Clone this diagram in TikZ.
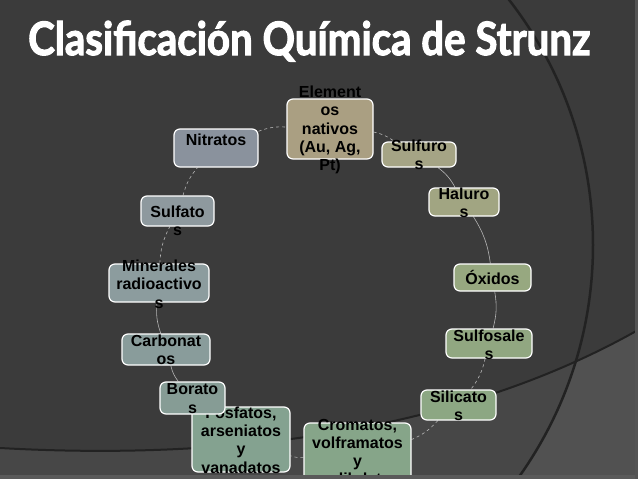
\documentclass[tikz,border=0pt]{standalone}
\usepackage{fontspec}
\newfontfamily\cajafont{Liberation Sans}
\newfontfamily\titulofont{Lato}[BoldFeatures={FakeBold=2.5}]

% Colores del fondo
\definecolor{fondo}{HTML}{3B3B3B}
\definecolor{fondoclaro}{HTML}{474747}
\definecolor{fondoclarob}{HTML}{515151}
\definecolor{lineaoscura}{HTML}{222222}
\definecolor{marco}{HTML}{5A5A5A}
% Colores de las cajas
\definecolor{cElementos}{HTML}{AA9F82}
\definecolor{cSulfuros}{HTML}{A5A485}
\definecolor{cHaluros}{HTML}{A1A582}
\definecolor{cOxidos}{HTML}{97A880}
\definecolor{cSulfosales}{HTML}{91A781}
\definecolor{cSilicatos}{HTML}{8CA783}
\definecolor{cCromatos}{HTML}{86A589}
\definecolor{cFosfatos}{HTML}{84A290}
\definecolor{cBoratos}{HTML}{869C95}
\definecolor{cCarbonatos}{HTML}{899C9B}
\definecolor{cMinerales}{HTML}{8C9C9E}
\definecolor{cSulfatos}{HTML}{8E999E}
\definecolor{cNitratos}{HTML}{8A929D}

\pgfdeclarelayer{fondo}
\pgfdeclarelayer{enlaces}
\pgfsetlayers{fondo,enlaces,main}

\tikzset{
  caja/.style={draw=white, line width=1.2pt, rounded corners=6pt, inner sep=0pt},
  texto/.style={font=\cajafont\bfseries\fontsize{16}{18.3}\selectfont, align=center, inner sep=0pt, text=black},
  enlace/.style={draw=white!62!fondo, line width=0.6pt},
}

\begin{document}
\begin{tikzpicture}[x=1pt, y=-1pt]
    \useasboundingbox (0,0) rectangle (638,479);

    % Fondo con los arcos
    \begin{pgfonlayer}{fondo}
      \fill[fondo] (0,0) rectangle (638,479);
      \fill[fondoclaro] (0,448) .. controls (250,462) and (470,425) .. (638,330) -- (638,479) -- (0,479) -- cycle;
      \begin{scope}
        \clip (0,448) .. controls (250,462) and (470,425) .. (638,330) -- (638,479) -- (0,479) -- cycle;
        \fill[fondoclarob, even odd rule] (-100,-100) rectangle (800,600) (193,245) circle (400);
      \end{scope}
      \draw[lineaoscura, line width=2pt] (0,448) .. controls (250,462) and (470,425) .. (638,330);
      \draw[lineaoscura, line width=2.5pt] (193,245) circle (400);
    \end{pgfonlayer}

    % Titulo
    \node[anchor=base west, inner sep=0pt, text=white,
          font=\titulofont\bfseries\fontsize{46}{50}\selectfont] (titulo) at (28,55)
          {\scalebox{0.875}[1]{Clasificación Química de Strunz}};

    % Cajas del ciclo
    \node[caja, fill=cElementos, minimum width=86pt, minimum height=60pt] (elementos) at (330,129) {};
    \node[texto] (t-elementos) at (330,130) {Element\\os\\nativos\\(Au, Ag,\\Pt)};

    \node[caja, fill=cSulfuros, minimum width=74pt, minimum height=25pt] (sulfuros) at (419,154.5) {};
    \node[texto] (t-sulfuros) at (419,154.5) {Sulfuro\\s};

    \node[caja, fill=cHaluros, minimum width=70pt, minimum height=28pt] (haluros) at (464,202) {};
    \node[texto] (t-haluros) at (464,202.5) {Haluro\\s};

    \node[caja, fill=cOxidos, minimum width=77pt, minimum height=27pt] (oxidos) at (492.5,277.5) {};
    \node[texto] (t-oxidos) at (492.5,277.5) {Óxidos};

    \node[caja, fill=cSulfosales, minimum width=86pt, minimum height=29pt] (sulfosales) at (489,343.5) {};
    \node[texto] (t-sulfosales) at (489,344.5) {Sulfosale\\s};

    \node[caja, fill=cSilicatos, minimum width=75pt, minimum height=30pt] (silicatos) at (458.5,405) {};
    \node[texto] (t-silicatos) at (458.5,405.5) {Silicato\\s};

    \node[caja, fill=cCromatos, minimum width=107pt, minimum height=58pt] (cromatos) at (357.5,452) {};
    \node[texto] (t-cromatos) at (357.5,452) {Cromatos,\\volframatos\\y\\molibdatos};

    \node[caja, fill=cFosfatos, minimum width=98pt, minimum height=65pt] (fosfatos) at (241,439.5) {};
    \node[texto] (t-fosfatos) at (241,440) {Fosfatos,\\arseniatos\\y\\vanadatos};

    \node[caja, fill=cBoratos, minimum width=65pt, minimum height=32pt] (boratos) at (192.5,398) {};
    \node[texto] (t-boratos) at (192.5,398.5) {Borato\\s};

    \node[caja, fill=cCarbonatos, minimum width=88pt, minimum height=31pt] (carbonatos) at (166,349.5) {};
    \node[texto] (t-carbonatos) at (166,350) {Carbonat\\os};

    \node[caja, fill=cMinerales, minimum width=100pt, minimum height=38pt] (minerales) at (159,283) {};
    \node[texto] (t-minerales) at (159,284) {Minerales\\radioactivo\\s};

    \node[caja, fill=cSulfatos, minimum width=73pt, minimum height=30pt] (sulfatos) at (177.5,211) {};
    \node[texto] (t-sulfatos) at (177.5,220.5) {Sulfato\\s};

    \node[caja, fill=cNitratos, minimum width=84pt, minimum height=38pt] (nitratos) at (216,148) {};
    \node[texto] (t-nitratos) at (216,140) {Nitratos};

    % Enlaces entre cajas
    \begin{pgfonlayer}{enlaces}
      \draw[enlace, dashed] (elementos) to[bend left=12] (sulfuros);
      \draw[enlace] (sulfuros) to[bend left=12] (haluros);
      \draw[enlace] (haluros) to[bend left=12] (oxidos);
      \draw[enlace] (oxidos) to[bend left=12] (sulfosales);
      \draw[enlace, dashed] (sulfosales) to[bend left=12] (silicatos);
      \draw[enlace, dashed] (silicatos) to[bend left=12] (cromatos);
      \draw[enlace, dashed] (cromatos) to[bend left=12] (fosfatos);
      \draw[enlace] (boratos) to[bend left=12] (carbonatos);
      \draw[enlace] (carbonatos) to[bend left=12] (minerales);
      \draw[enlace, dashed] (minerales) to[bend left=12] (sulfatos);
      \draw[enlace, dashed] (sulfatos) to[bend left=12] (nitratos);
      \draw[enlace, dashed] (nitratos) to[bend left=12] (elementos);
    \end{pgfonlayer}

    % Marco inferior y derecho
    \fill[marco] (0,475) rectangle (638,479);
    \fill[marco!80!fondo] (635,0) rectangle (638,479);
\end{tikzpicture}
\end{document}
